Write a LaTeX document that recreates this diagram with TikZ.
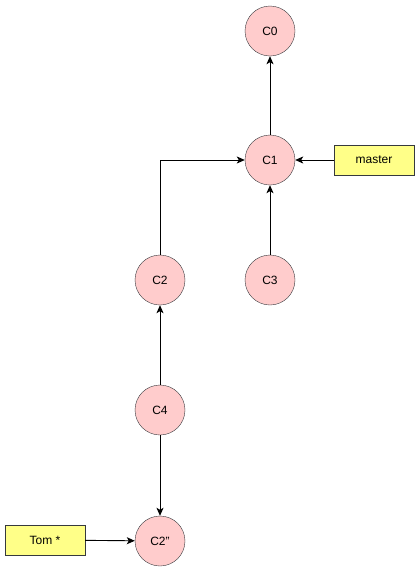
\documentclass[tikz,border=0pt]{standalone}
\usepackage{fontspec}
\setmainfont{Liberation Sans}
\usetikzlibrary{arrows.meta}
\definecolor{cfill}{HTML}{FFCCCC}
\definecolor{cdraw}{HTML}{36393D}
\definecolor{yfill}{HTML}{FFFF88}
\begin{document}
\begin{tikzpicture}[x=1pt,y=-1pt,
  commit/.style={circle,draw=cdraw,fill=cfill,minimum size=50pt,inner sep=0pt,font=\fontsize{12}{14}\selectfont},
  tag/.style={rectangle,draw=cdraw,fill=yfill,minimum width=80pt,minimum height=30pt,inner sep=0pt,font=\fontsize{12}{14}\selectfont},
  arr/.style={-{Stealth[length=8pt,width=7pt,inset=2pt]},line width=0.9pt}]
\useasboundingbox (0,0) rectangle (420,571);
\node[commit] (c0) at (270,31) {C0};
\node[commit] (c1) at (270,160) {C1};
\node[commit] (c2) at (160,280) {C2};
\node[commit] (c3) at (270,280) {C3};
\node[commit] (c4) at (160,410) {C4};
\node[commit] (c5) at (160,541) {C2''};
\node[tag] (master) at (374,160) {master};
\node[tag] (tom) at (45,540) {Tom *};
\draw[arr] (c1) -- (c0);
\draw[arr] (master) -- (c1);
\draw[arr] (c3) -- (c1);
\draw[arr] (c2.north) |- (c1.west);
\draw[arr] (c4) -- (c2);
\draw[arr] (c4) -- (c5);
\draw[arr] (tom) -- (c5);
\end{tikzpicture}
\end{document}
